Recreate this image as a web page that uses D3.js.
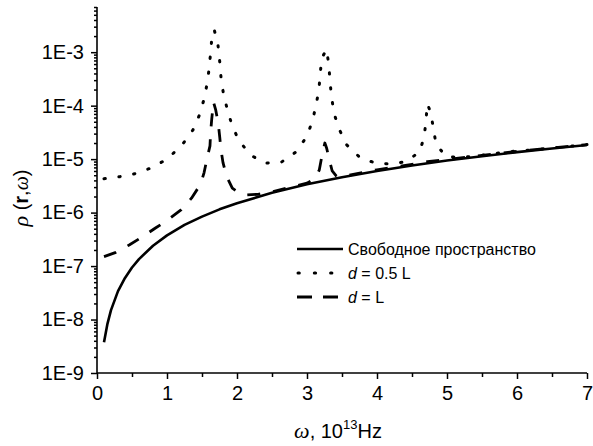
<!DOCTYPE html>
<html><head><meta charset="utf-8">
<script src="https://cdn.jsdelivr.net/npm/d3@7"></script>
<style>
html,body{margin:0;padding:0;background:#fff;}
svg{display:block;}
text{font-family:"Liberation Sans",Arial,sans-serif;fill:#000;}
</style></head>
<body><svg id="c" width="593" height="446"></svg>
<script>
// ---- data ----
const omegaFree = [0.1,0.15,0.2,0.3,0.4,0.5,0.6,0.8,1.0,1.25,1.5,1.75,2.0,2.5,3.0,3.5,4.0,4.5,5.0,5.5,6.0,6.5,7.0];
const rhoFree   = [3.75e-9,8.4e-9,1.5e-8,3.4e-8,6.0e-8,9.4e-8,1.35e-7,2.4e-7,3.75e-7,5.9e-7,8.4e-7,1.15e-6,1.5e-6,2.35e-6,3.4e-6,4.6e-6,6.0e-6,7.6e-6,9.4e-6,1.13e-5,1.35e-5,1.58e-5,1.84e-5];

const omegaHalf = [0.1,0.33,0.56,0.78,1.0,1.21,1.37,1.47,1.53,1.576,1.604,1.624,1.643,1.676,1.729,1.753,1.771,1.804,1.857,1.924,2.02,2.19,2.4,2.63,2.85,3.0,3.08,3.13,3.17,3.19,3.21,3.28,3.314,3.329,3.353,3.386,3.457,3.567,3.757,3.98,4.2,4.42,4.61,4.676,4.70,4.72,4.767,4.805,4.843,4.99,5.21,5.43,5.65,5.88,6.2,6.6,7.0];
const rhoHalf   = [4.3e-6,4.7e-6,5.4e-6,6.9e-6,1.0e-5,1.8e-5,3.5e-5,7.0e-5,1.34e-4,2.7e-4,5.2e-4,1.03e-3,2.0e-3,2.6e-3,1.33e-3,6.7e-4,3.45e-4,1.75e-4,8.9e-5,4.5e-5,2.3e-5,1.2e-5,8.4e-6,8.7e-6,1.38e-5,2.7e-5,5.3e-5,1.03e-4,2.0e-4,4.05e-4,7.7e-4,1.13e-3,5.4e-4,2.75e-4,1.4e-4,7.2e-5,3.7e-5,1.85e-5,1.07e-5,8.4e-6,8.1e-6,9.0e-6,1.38e-5,2.7e-5,5.4e-5,1.08e-4,7.4e-5,3.8e-5,1.9e-5,1.1e-5,1.08e-5,1.15e-5,1.25e-5,1.38e-5,1.48e-5,1.66e-5,1.87e-5];

const omegaL = [0.1,0.26,0.46,0.64,0.83,1.0,1.2,1.35,1.48,1.53,1.576,1.614,1.624,1.639,1.664,1.696,1.733,1.753,1.771,1.8,1.853,1.933,2.05,2.14,2.3,2.5,2.75,3.0,3.12,3.176,3.21,3.255,3.281,3.319,3.36,3.42,3.6,4.0,4.5,4.72,5.0,5.5,6.0,6.5,7.0];
const rhoL   = [1.5e-7,1.78e-7,2.48e-7,3.46e-7,5.1e-7,7.1e-7,1.12e-6,1.86e-6,3.4e-6,5.6e-6,1.09e-5,1.77e-5,3.3e-5,5.6e-5,1.17e-4,8.3e-5,4.6e-5,2.6e-5,1.5e-5,8.6e-6,4.7e-6,2.86e-6,2.25e-6,2.14e-6,2.2e-6,2.45e-6,2.95e-6,3.55e-6,4.4e-6,6.3e-6,1.09e-5,2.0e-5,1.6e-5,9.7e-6,6.0e-6,4.8e-6,5.0e-6,6.3e-6,8.0e-6,9.0e-6,9.8e-6,1.17e-5,1.39e-5,1.62e-5,1.86e-5];

const xTicks = [0,1,2,3,4,5,6,7];
const yTickExp = [-9,-8,-7,-6,-5,-4,-3];
const legendLabels = ["Свободное пространство", "0.5 L", "L"];

// ---- layout ----
const svg = d3.select("#c");
const X0 = 97, X1 = 587, Y0 = 373, Y1 = 7;
const x = d3.scaleLinear().domain([0,7]).range([X0,X1]);
const y = d3.scaleLog().domain([1e-9,7e-3]).range([Y0,Y1]);

const yMinor = [];
for (let e=-9; e<=-3; e++) for (let m=2; m<=9; m++) { const v=m*Math.pow(10,e); if (v<=7e-3) yMinor.push(v); }
const xMinor = d3.range(0.5,7,1);

function styleAxis(g){ g.select(".domain").remove(); g.selectAll("line").attr("stroke","#000").attr("stroke-width",1.5); }

svg.append("g").attr("transform",`translate(${X0},0)`)
  .call(d3.axisLeft(y).tickValues(yMinor).tickSize(3).tickFormat(""))
  .call(styleAxis);
const gy = svg.append("g").attr("transform",`translate(${X0},0)`)
  .call(d3.axisLeft(y).tickValues(yTickExp.map(e=>Math.pow(10,e))).tickSize(6).tickPadding(7)
        .tickFormat(d=>"1E"+Math.round(Math.log10(d))))
  .call(styleAxis);
gy.selectAll("text").attr("font-size",20).attr("font-family","Liberation Sans, Arial, sans-serif").attr("fill","#000");

svg.append("g").attr("transform",`translate(0,${Y0})`)
  .call(d3.axisBottom(x).tickValues(xMinor).tickSize(4).tickFormat(""))
  .call(styleAxis);
const gx = svg.append("g").attr("transform",`translate(0,${Y0})`)
  .call(d3.axisBottom(x).tickValues(xTicks).tickSize(6).tickPadding(7).tickFormat(d3.format("d")))
  .call(styleAxis);
gx.selectAll("text").attr("font-size",20).attr("font-family","Liberation Sans, Arial, sans-serif").attr("fill","#000");

svg.append("line").attr("x1",X0).attr("x2",X0).attr("y1",Y1).attr("y2",Y0).attr("stroke","#000").attr("stroke-width",1.6);
svg.append("line").attr("x1",X0).attr("x2",X1).attr("y1",Y0).attr("y2",Y0).attr("stroke","#000").attr("stroke-width",1.6);

// curves
const line = d3.line().x(d=>x(d[0])).y(d=>y(d[1]));
const zip = (a,b)=>a.map((v,i)=>[v,b[i]]);
const styles = [
  {dash:null, cap:"butt", w:2.6},
  {dash:"1.3,13.7", cap:"round", w:3},
  {dash:"13,13", cap:"butt", w:2.8}
];
const series = [zip(omegaFree,rhoFree), zip(omegaHalf,rhoHalf), zip(omegaL,rhoL)];
series.forEach((s,i)=>{
  svg.append("path").datum(s).attr("d",line).attr("fill","none").attr("stroke","#000")
    .attr("stroke-width",styles[i].w).attr("stroke-linecap",styles[i].cap)
    .attr("stroke-linejoin","round")
    .attr("stroke-dasharray",styles[i].dash);
});

// legend
const LX0 = 297, LX1 = 343, LT = 348, rows = [249,273,297];
rows.forEach((ry,i)=>{
  svg.append("line").attr("x1",LX0 + (i===1?1:0)).attr("x2",LX1).attr("y1",ry).attr("y2",ry)
    .attr("stroke","#000").attr("stroke-width",styles[i].w).attr("stroke-linecap",styles[i].cap)
    .attr("stroke-dasharray",i===1?"1.3,15":(i===2?"15,11":null));
  const t = svg.append("text").attr("x",LT).attr("y",ry+5.5).attr("font-size",16);
  if (i===0) t.text(legendLabels[0]);
  else { t.append("tspan").attr("font-style","italic").text("d"); t.append("tspan").text(" = "+legendLabels[i]); }
});

// axis titles
const xt = svg.append("text").attr("x",338).attr("y",438).attr("text-anchor","middle").attr("font-size",20);
xt.append("tspan").attr("font-family","Liberation Serif, serif").attr("font-style","italic").attr("font-size",22).text("ω");
xt.append("tspan").text(", 10");
xt.append("tspan").attr("font-size",13).attr("dy",-9).text("13");
xt.append("tspan").attr("dy",9).text("Hz");

const yt = svg.append("text").attr("transform","translate(28,198) rotate(-90)").attr("text-anchor","middle").attr("font-size",20);
yt.append("tspan").attr("font-family","Liberation Serif, serif").attr("font-style","italic").attr("font-size",22).text("ρ");
yt.append("tspan").text(" (");
yt.append("tspan").attr("font-weight","bold").text("r");
yt.append("tspan").text(",");
yt.append("tspan").attr("font-family","Liberation Serif, serif").attr("font-style","italic").attr("font-size",20).text("ω");
yt.append("tspan").text(")");
</script></body></html>
